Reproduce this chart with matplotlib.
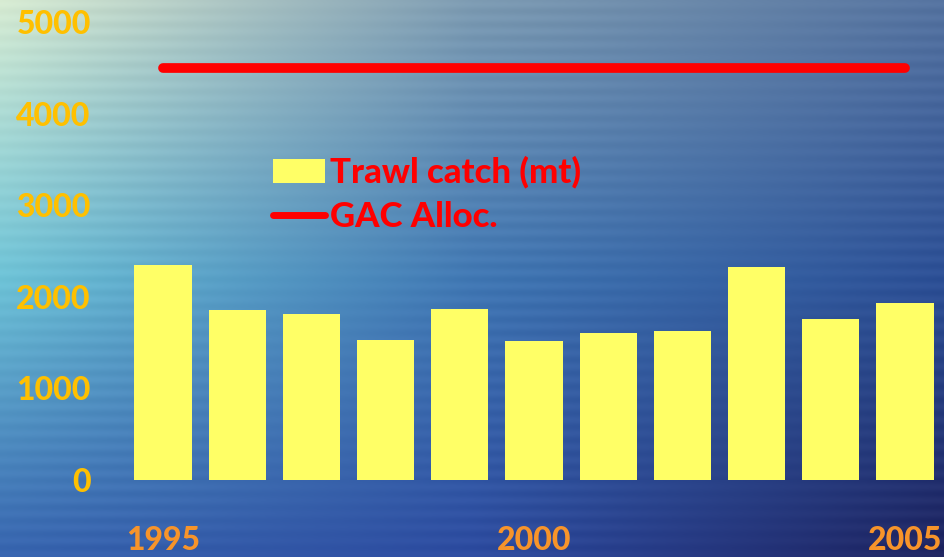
import numpy as np
import matplotlib
matplotlib.use("Agg")
import matplotlib.pyplot as plt
from matplotlib.patches import Patch
from matplotlib.lines import Line2D

years = [1995, 1996, 1997, 1998, 1999, 2000, 2001, 2002, 2003, 2004, 2005]
trawl_catch = [2350, 1860, 1810, 1530, 1870, 1520, 1610, 1630, 2320, 1760, 1930]
gac_alloc = [4500] * len(years)
yticks = [0, 1000, 2000, 3000, 4000, 5000]
xticks = [1995, 2000, 2005]

W, H = 945, 557
fig = plt.figure(figsize=(W / 100, H / 100), dpi=100)

# ocean-like background gradient
bg = fig.add_axes([0, 0, 1, 1], zorder=0)
ctrl = np.array([
    [[215, 235, 210], [125, 155, 178], [85, 115, 160]],
    [[110, 195, 215], [65, 120, 180], [45, 80, 150]],
    [[55, 100, 175], [45, 75, 160], [30, 35, 95]],
], dtype=float) / 255
ny, nx = 240, 200
yy = np.linspace(0, 2, ny)[:, None]
xx = np.linspace(0, 2, nx)[None, :]
img = np.zeros((ny, nx, 3))
for c in range(3):
    g = ctrl[:, :, c]
    iy = np.clip(np.floor(yy).astype(int), 0, 1)
    ix = np.clip(np.floor(xx).astype(int), 0, 1)
    fy = yy - iy
    fx = xx - ix
    img[:, :, c] = (g[iy, ix] * (1 - fy) * (1 - fx) + g[iy + 1, ix] * fy * (1 - fx)
                    + g[iy, ix + 1] * (1 - fy) * fx + g[iy + 1, ix + 1] * fy * fx)
waves = (0.012 * np.sin(np.linspace(0, 260, ny))[:, None]
         * (1 + 0.5 * np.sin(np.linspace(0, 14, nx)))[None, :])
img = np.clip(img + waves[:, :, None], 0, 1)
bg.imshow(img, extent=[0, 1, 0, 1], aspect="auto", interpolation="bicubic")
bg.set_axis_off()

ax = fig.add_axes([120 / W, (H - 480) / H, (W - 120) / W, (480 - 22) / H], zorder=1)
ax.patch.set_alpha(0)

ax.bar(years, trawl_catch, width=0.77, color="#FFFF66", zorder=2)
ax.plot(years, gac_alloc, color="#FF0000", lw=7, solid_capstyle="round", zorder=3)

ax.set_xlim(1994.42, 2005.54)
ax.set_ylim(0, 5000)
ax.set_yticks(yticks)
ax.set_xticks(xticks)
for s in ax.spines.values():
    s.set_visible(False)
ax.tick_params(length=0)
ax.tick_params(axis="y", pad=21, labelcolor="#FFC000")
ax.tick_params(axis="x", pad=33, labelcolor="#F7942A")
for lab in ax.get_yticklabels() + ax.get_xticklabels():
    lab.set_fontfamily("Lato")
    lab.set_fontweight("black")
    lab.set_fontsize(23)

handles = [Patch(facecolor="#FFFF66", edgecolor="none"),
           Line2D([0], [0], color="#FF0000", lw=5, solid_capstyle="round")]
leg = ax.legend(handles, ["Trawl catch (mt)", "GAC Alloc."],
                loc="upper left", bbox_to_anchor=(122 / (W - 120), 1 - (125 - 22) / (480 - 22)),
                frameon=False, handlelength=1.5, handletextpad=0.12, labelspacing=0.35,
                prop={"family": "Lato", "weight": "black", "size": 25})
for t in leg.get_texts():
    t.set_color("#FF0000")

fig.savefig("out.png", dpi=100)
